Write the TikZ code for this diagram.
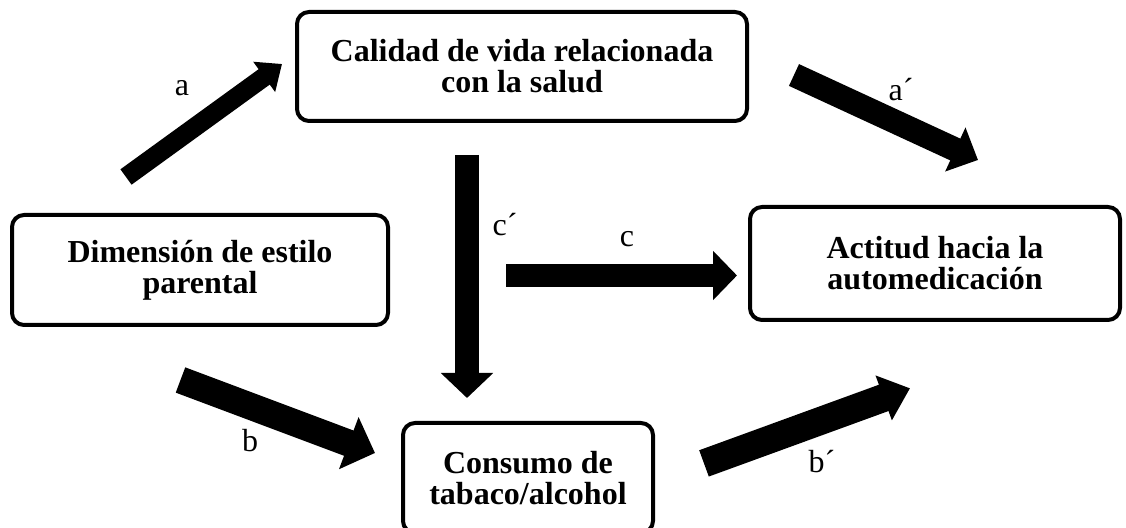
\documentclass[tikz,border=0pt]{standalone}
\usepackage{fontspec}
\setmainfont{Liberation Serif}
\usetikzlibrary{arrows.meta}
\begin{document}
\begin{tikzpicture}[x=0.5pt,y=-0.5pt,
  box/.style={draw=black, line width=2pt, rounded corners=6pt, align=center,
    font=\fontsize{16}{15.5}\selectfont\bfseries, inner sep=0pt},
  lbl/.style={font=\fontsize{16}{18}\selectfont, inner sep=0pt},
]
\useasboundingbox (0,0) rectangle (1126,528);
% boxes
\node[box, minimum width=225pt, minimum height=54.5pt] (cal) at (522,66.5)
  {Calidad de vida relacionada\\con la salud};
\node[box, minimum width=188pt, minimum height=55pt] (dim) at (200,270)
  {Dimensión de estilo\\parental};
\node[box, minimum width=185pt, minimum height=56.5pt] (act) at (935,263.5)
  {Actitud hacia la\\automedicación};
\node[box, minimum width=125pt, minimum height=55pt] (con) at (528,478)
  {Consumo de\\tabaco/alcohol};
% free ends of the block arrows
\coordinate (aS) at (126,177);   \coordinate (aE) at (282,64);
\coordinate (apS) at (794,75);   \coordinate (apE) at (978,160);
\coordinate (cpS) at (467,155);  \coordinate (cpE) at (467,398);
\coordinate (cS) at (506,275.5); \coordinate (cE) at (737,275.5);
\coordinate (bS) at (180.5,380); \coordinate (bE) at (375,453);
\coordinate (bpS) at (704,463.4); \coordinate (bpE) at (910,388.3);
% block arrows
\draw[line width=9.5pt, -{Triangle[width=18pt,length=11pt]}] (aS) -- (aE);
\draw[line width=12pt, -{Triangle[width=23.5pt,length=12.5pt]}] (apS) -- (apE);
\draw[line width=12pt, -{Triangle[width=25.5pt,length=12.5pt]}] (cpS) -- (cpE);
\draw[line width=11.5pt, -{Triangle[width=24pt,length=12pt]}] (cS) -- (cE);
\draw[line width=13.5pt, -{Triangle[width=27pt,length=14pt]}] (bS) -- (bE);
\draw[line width=14pt, -{Triangle[width=23pt,length=14pt]}] (bpS) -- (bpE);
% labels
\node[lbl] (la) at (182,88) {a};
\node[lbl] (lap) at (901,90) {a´};
\node[lbl] (lcp) at (505,225) {c´};
\node[lbl] (lc) at (627,239) {c};
\node[lbl] (lb) at (250,441) {b};
\node[lbl] (lbp) at (822,462) {b´};
\end{tikzpicture}
\end{document}
